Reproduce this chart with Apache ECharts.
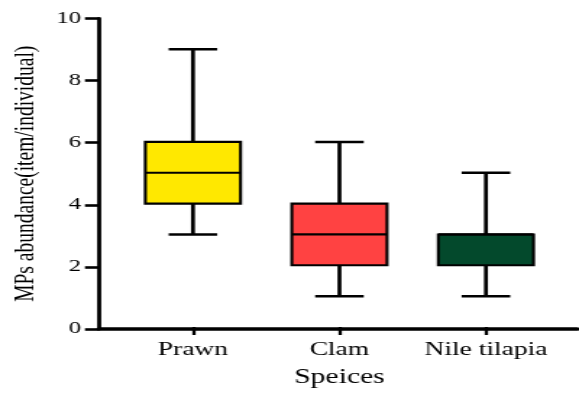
<!DOCTYPE html>
<html>
<head>
<meta charset="utf-8">
<script src="https://cdn.jsdelivr.net/npm/echarts@6/dist/echarts.min.js"></script>
<style>
  html, body { margin: 0; padding: 0; background: #fff; }
  #wrap { width: 579px; height: 393px; overflow: hidden; background: #fff; }
  /* drawn at a narrower width, then widened so the serif glyphs get the broad, stretched look */
  #chart { width: 400px; height: 393px; transform: scaleX(1.4475); transform-origin: 0 0; }
</style>
</head>
<body>
<div id="wrap"><div id="chart"></div></div>
<script>
// Microplastic abundance per species (item/individual)
const categories = ['Prawn', 'Clam', 'Nile tilapia'];
const minVals    = [3, 1, 1];
const q1Vals     = [4, 2, 2];
const medianVals = [5, 3, 3];
const q3Vals     = [6, 4, 3];
const maxVals    = [9, 6, 5];
const yTicks     = [0, 2, 4, 6, 8, 10];
const boxColors  = ['#FFE800', '#FF4242', '#03492C'];

const rows = categories.map((c, i) => [i, minVals[i], q1Vals[i], medianVals[i], q3Vals[i], maxVals[i]]);

const FONT = '"Liberation Serif", "Times New Roman", serif';
const gridTop = 18.5, gridBottom = 64;

const chart = echarts.init(document.getElementById('chart'), null, { renderer: 'canvas' });

function renderBox(params, api) {
  const i = api.value(0);
  const pMin = api.coord([i, api.value(1)]);
  const pQ1  = api.coord([i, api.value(2)]);
  const pMed = api.coord([i, api.value(3)]);
  const pQ3  = api.coord([i, api.value(4)]);
  const pMax = api.coord([i, api.value(5)]);
  const band = api.size([1, 0])[0];
  const bw = band * 0.65;
  const cw = bw * 0.51;
  const cx = pMed[0];
  const line = (x1, y1, x2, y2, w) => ({
    type: 'line',
    shape: { x1, y1, x2, y2 },
    style: { stroke: '#000', lineWidth: w }
  });
  return {
    type: 'group',
    children: [
      line(cx, pMax[1], cx, pQ3[1], 2.7),
      line(cx, pQ1[1], cx, pMin[1], 2.7),
      line(cx - cw / 2, pMax[1], cx + cw / 2, pMax[1], 2.5),
      line(cx - cw / 2, pMin[1], cx + cw / 2, pMin[1], 2.5),
      {
        type: 'rect',
        shape: { x: cx - bw / 2, y: pQ3[1], width: bw, height: pQ1[1] - pQ3[1] },
        style: { fill: boxColors[i], stroke: '#000', lineWidth: 2.1 }
      },
      line(cx - bw / 2, pMed[1], cx + bw / 2, pMed[1], 2.2)
    ]
  };
}

chart.setOption({
  backgroundColor: '#fff',
  animation: false,
  grid: [
    { left: 66.3, right: 1.4, top: gridTop, bottom: gridBottom },
    { left: 82.7, width: 303.6, top: gridTop, bottom: gridBottom }
  ],
  xAxis: [
    {
      gridIndex: 0, type: 'value', min: 0, max: 1,
      axisLine: { show: true, onZero: false, lineStyle: { color: '#000', width: 3.6 } },
      axisTick: { show: false }, axisLabel: { show: false }, splitLine: { show: false }
    },
    {
      gridIndex: 1, type: 'category', data: categories, boundaryGap: true,
      axisLine: { show: false },
      axisTick: { show: true, alignWithLabel: true, interval: 0, length: 8, lineStyle: { color: '#000', width: 2.3 } },
      axisLabel: { interval: 0, hideOverlap: false, margin: 14, color: '#000', fontFamily: FONT, fontSize: 19 },
      splitLine: { show: false },
      name: 'Speices', nameLocation: 'middle', nameGap: 40,
      nameTextStyle: { color: '#000', fontFamily: FONT, fontSize: 20.5 }
    }
  ],
  yAxis: [
    {
      gridIndex: 0, type: 'value', min: yTicks[0], max: yTicks[yTicks.length - 1], interval: 2,
      axisLine: { show: true, lineStyle: { color: '#000', width: 2.8 } },
      axisTick: { show: true, inside: false, length: 9.7, lineStyle: { color: '#000', width: 2.6 } },
      axisLabel: { margin: 12.5, color: '#000', fontFamily: FONT, fontSize: 17 },
      splitLine: { show: false },
      name: 'MPs abundance(item/individual)', nameLocation: 'middle', nameGap: 39, nameRotate: 90,
      nameTextStyle: { color: '#000', fontFamily: FONT, fontSize: 19.5 }
    },
    {
      gridIndex: 1, type: 'value', min: yTicks[0], max: yTicks[yTicks.length - 1], show: false
    }
  ],
  series: [
    {
      type: 'custom',
      xAxisIndex: 1,
      yAxisIndex: 1,
      renderItem: renderBox,
      encode: { x: 0, y: [1, 2, 3, 4, 5] },
      data: rows
    }
  ]
});
</script>
</body>
</html>
